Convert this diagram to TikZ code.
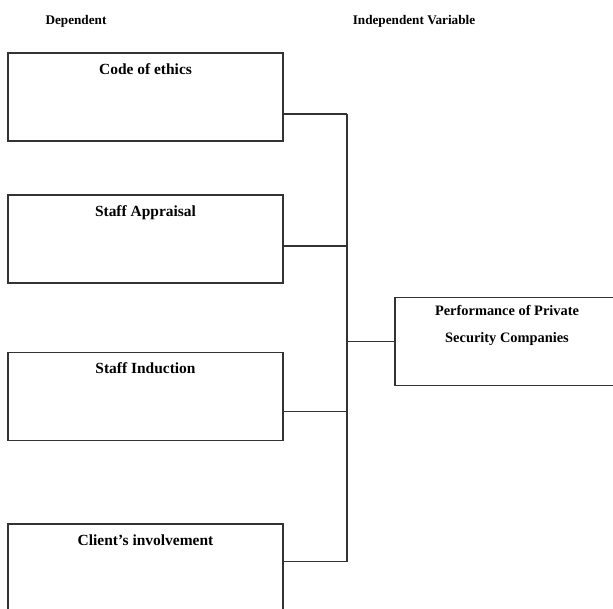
\documentclass[tikz,border=0pt]{standalone}
\usepackage{fontspec}
\setmainfont{Liberation Serif}
\usepackage{tikz}
\usetikzlibrary{positioning,calc}

\tikzset{
    varbox/.style={draw=black!80, line width=0.8pt, inner sep=0pt, outer sep=0pt,
        minimum width=206.25pt, minimum height=66pt, anchor=north west},
    boxtitle/.style={inner sep=0pt, anchor=north, font=\fontsize{11.6}{14}\selectfont\bfseries},
    header/.style={inner sep=0pt, font=\fontsize{9.9}{12}\selectfont\bfseries},
    link/.style={draw=black!80, line width=0.8pt}
}

\begin{document}
\begin{tikzpicture}[x=0.75pt, y=-0.75pt]
    \useasboundingbox (0,0) rectangle (613,609);
    \clip (0,0) rectangle (613,609);

    % Headings
    \node[header] (hdep) at (76,21) {Dependent};
    \node[header] (hind) at (414,21) {Independent Variable};

    % Left boxes
    \node[varbox] (c1) at (8,53) {};
    \node[boxtitle, below=7.5pt of c1.north] (t1) {Code of ethics};
    \node[varbox] (c2) at (8,195) {};
    \node[boxtitle, below=7.5pt of c2.north] (t2) {Staff Appraisal};
    \node[varbox] (c3) at (8,352.5) {};
    \node[boxtitle, below=7.5pt of c3.north] (t3) {Staff Induction};
    \node[varbox] (c4) at (8,524) {};
    \node[boxtitle, below=7.5pt of c4.north] (t4) {Client’s involvement};

    % Right box
    \node[varbox, minimum width=168pt] (res) at (395,297.5) {};
    \node[boxtitle, below=6pt of res.north, align=center,
        font=\fontsize{10.8}{20}\selectfont\bfseries] (tr)
        {Performance of Private\\Security Companies};

    % Bus
    \coordinate (j1) at (347,114);
    \coordinate (j2) at (347,246);
    \coordinate (j3) at (347,411.5);
    \coordinate (j4) at (347,561.5);
    \coordinate (jr) at (347,341.5);
    \draw[link] (c1.east |- j1) -- (j1);
    \draw[link] (c2.east |- j2) -- (j2);
    \draw[link] (c3.east |- j3) -- (j3);
    \draw[link] (c4.east |- j4) -- (j4);
    \draw[link] (j1) -- (j4);
    \draw[link] (jr) -- (res.west |- jr);
\end{tikzpicture}
\end{document}
